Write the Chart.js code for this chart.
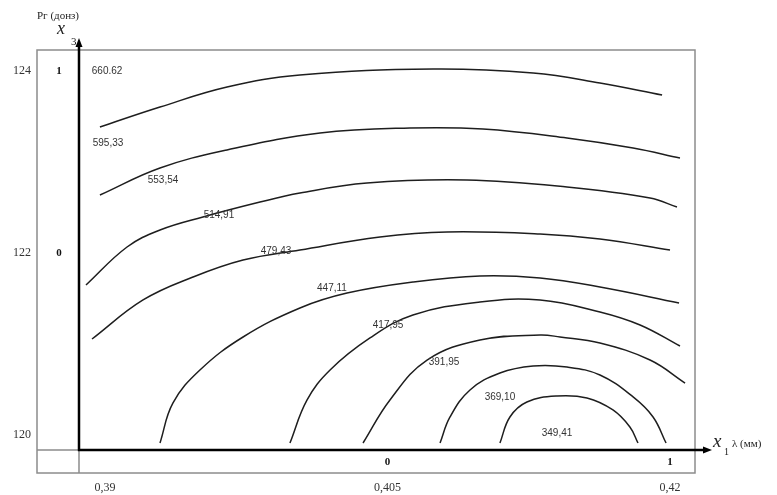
<!DOCTYPE html>
<html>
<head>
<meta charset="utf-8">
<script src="https://cdn.jsdelivr.net/npm/chart.js@4.4.1/dist/chart.umd.min.js"></script>
<style>
  html, body { margin: 0; padding: 0; background: #ffffff; }
  #wrap { width: 777px; height: 495px; }
</style>
</head>
<body>
<div id="wrap"><canvas id="c" width="777" height="495"></canvas></div>
<script>
// ---- data (natural units: x = λ, мм ; y = Pг) ----
const xTicks = [0.39, 0.405, 0.42];
const xTickLabels = ['0,39', '0,405', '0,42'];
const yTicks = [120, 122, 124];
const yTickLabels = ['120', '122', '124'];
const xCoded = ['0', '1'];          // coded labels under x axis at 0.405, 0.42
const xCodedAt = [0.405, 0.42];
const yCoded = ['1', '0'];          // coded labels left of y axis at 124, 122
const yCodedAt = [124, 122];

const c1x = [0.38973, 0.39292, 0.39648, 0.40035, 0.40742, 0.41273, 0.41628, 0.41958];
const c1y = [123.385, 123.604, 123.824, 123.956, 124.022, 123.978, 123.868, 123.736];
const c2x = [0.38973, 0.39292, 0.39648, 0.40142, 0.40619, 0.41007, 0.41453, 0.41804, 0.42053];
const c2y = [122.637, 122.934, 123.132, 123.319, 123.374, 123.363, 123.264, 123.154, 123.044];
const c3x = [0.38899, 0.39117, 0.39292, 0.39520, 0.39823, 0.40035, 0.40391, 0.40922, 0.41453, 0.41894, 0.42037];
const c3y = [121.648, 122.066, 122.253, 122.396, 122.560, 122.659, 122.769, 122.802, 122.725, 122.604, 122.505];
const c4x = [0.38931, 0.39202, 0.39467, 0.39733, 0.40035, 0.40460, 0.40816, 0.41310, 0.41628, 0.42000];
const c4y = [121.055, 121.484, 121.736, 121.923, 122.033, 122.176, 122.231, 122.209, 122.154, 122.033];
const c5x = [0.39292, 0.39361, 0.39504, 0.39733, 0.40035, 0.40285, 0.40635, 0.40991, 0.41310, 0.41628, 0.42048];
const c5y = [119.912, 120.352, 120.714, 121.077, 121.396, 121.560, 121.681, 121.747, 121.725, 121.626, 121.451];
const c6x = [0.39982, 0.40073, 0.40195, 0.40407, 0.40635, 0.40991, 0.41310, 0.41628, 0.41841, 0.42053];
const c6y = [119.912, 120.385, 120.714, 121.066, 121.319, 121.462, 121.484, 121.352, 121.209, 120.978];
const c7x = [0.40370, 0.40513, 0.40710, 0.40991, 0.41310, 0.41416, 0.41628, 0.41894, 0.42080];
const c7y = [119.912, 120.385, 120.824, 121.044, 121.099, 121.077, 121.011, 120.824, 120.571];
const c8x = [0.40779, 0.40832, 0.40938, 0.41097, 0.41273, 0.41453, 0.41628, 0.41804, 0.41910, 0.41979];
const c8y = [119.912, 120.198, 120.495, 120.681, 120.758, 120.747, 120.659, 120.418, 120.198, 119.912];
const c9x = [0.41097, 0.41150, 0.41240, 0.41400, 0.41559, 0.41697, 0.41787, 0.41830];
const c9y = [119.912, 120.198, 120.363, 120.429, 120.407, 120.275, 120.088, 119.912];

const levelText = ['660.62', '595,33', '553,54', '514,91', '479,43', '447,11', '417,95', '391,95', '369,10', '349,41'];
const levelX = [0.39011, 0.39016, 0.39308, 0.39605, 0.39908, 0.40205, 0.40503, 0.40800, 0.41097, 0.41400];
const levelY = [124.0, 123.209, 122.802, 122.418, 122.022, 121.615, 121.209, 120.802, 120.418, 120.022];

// ---- view constants ----
const X_MIN = 0.386389, X_MAX = 0.421327;
const Y_MIN = 119.5824, Y_MAX = 124.2308;
const AXIS_X = 0.388619, AXIS_Y = 119.8352;

const curves = [[c1x, c1y], [c2x, c2y], [c3x, c3y], [c4x, c4y], [c5x, c5y], [c6x, c6y], [c7x, c7y], [c8x, c8y], [c9x, c9y]];
const datasets = curves.map(([xs, ys]) => ({
  data: xs.map((v, i) => ({ x: v, y: ys[i] })),
  showLine: true,
  borderColor: '#1e1e1e',
  borderWidth: 1.5,
  pointRadius: 0,
  tension: 0.4,
  fill: false
}));

const framePlugin = {
  id: 'frame',
  beforeDatasetsDraw(chart) {
    const { ctx, chartArea: a, scales: { x, y } } = chart;
    const ax = x.getPixelForValue(AXIS_X), ay = y.getPixelForValue(AXIS_Y);
    ctx.save();
    ctx.strokeStyle = '#8c8c8c';
    ctx.lineWidth = 1.5;
    ctx.strokeRect(a.left, a.top, a.right - a.left, a.bottom - a.top);
    ctx.beginPath();
    ctx.moveTo(ax, ay); ctx.lineTo(ax, a.bottom);
    ctx.moveTo(a.left, ay); ctx.lineTo(ax, ay);
    ctx.stroke();
    ctx.restore();
  },
  afterDatasetsDraw(chart) {
    const { ctx, chartArea: a, scales: { x, y } } = chart;
    const ax = x.getPixelForValue(AXIS_X), ay = y.getPixelForValue(AXIS_Y);
    ctx.save();
    // thick axes
    ctx.strokeStyle = '#000';
    ctx.lineWidth = 2.5;
    ctx.beginPath();
    ctx.moveTo(ax, ay); ctx.lineTo(ax, a.top - 6);
    ctx.moveTo(ax - 1.2, ay); ctx.lineTo(a.right + 10, ay);
    ctx.stroke();
    ctx.fillStyle = '#000';
    ctx.beginPath();
    ctx.moveTo(ax, a.top - 12); ctx.lineTo(ax - 3.5, a.top - 3); ctx.lineTo(ax + 3.5, a.top - 3); ctx.closePath();
    ctx.fill();
    ctx.beginPath();
    ctx.moveTo(a.right + 17, ay); ctx.lineTo(a.right + 8, ay - 3.5); ctx.lineTo(a.right + 8, ay + 3.5); ctx.closePath();
    ctx.fill();

    // contour level labels
    ctx.fillStyle = '#333';
    ctx.font = '10px "Liberation Sans", Arial, sans-serif';
    ctx.textAlign = 'center';
    ctx.textBaseline = 'middle';
    levelText.forEach((t, i) => {
      ctx.fillText(t, x.getPixelForValue(levelX[i]), y.getPixelForValue(levelY[i]));
    });

    // coded labels
    ctx.fillStyle = '#111';
    ctx.font = 'bold 11px "Liberation Serif", "DejaVu Serif", serif';
    const colX = (a.left + ax) / 2 + 1;
    yCoded.forEach((t, i) => ctx.fillText(t, colX, y.getPixelForValue(yCodedAt[i])));
    const rowY = (ay + a.bottom) / 2 + 1;
    xCoded.forEach((t, i) => ctx.fillText(t, x.getPixelForValue(xCodedAt[i]), rowY));

    // axis titles
    ctx.fillStyle = '#222';
    ctx.textAlign = 'left';
    ctx.textBaseline = 'alphabetic';
    ctx.font = '11px "Liberation Serif", "DejaVu Serif", serif';
    ctx.fillText('Pг (донз)', a.left, 19);
    ctx.font = 'italic 18px "Liberation Serif", "DejaVu Serif", serif';
    ctx.fillText('x', ax - 22, 34);
    ctx.font = '11px "Liberation Serif", "DejaVu Serif", serif';
    ctx.fillText('3', ax - 8, 45);

    ctx.font = 'italic 19px "Liberation Serif", "DejaVu Serif", serif';
    ctx.fillText('x', a.right + 18, ay - 3);
    ctx.font = '10px "Liberation Serif", "DejaVu Serif", serif';
    ctx.fillText('1', a.right + 29, ay + 5);
    ctx.font = '11px "Liberation Serif", "DejaVu Serif", serif';
    ctx.fillText('λ (мм)', a.right + 37, ay - 3);
    ctx.restore();
  }
};

new Chart(document.getElementById('c'), {
  type: 'scatter',
  data: { datasets },
  options: {
    responsive: false,
    animation: false,
    layout: { padding: { left: 0, top: 50, right: 82, bottom: 0 } },
    plugins: { legend: { display: false }, tooltip: { enabled: false } },
    elements: { point: { radius: 0 } },
    scales: {
      x: {
        type: 'linear', min: X_MIN, max: X_MAX,
        afterBuildTicks: s => { s.ticks = xTicks.map(v => ({ value: v })); },
        afterFit: s => { s.height = 22; },
        ticks: {
          callback: (v) => { const i = xTicks.indexOf(v); return i >= 0 ? xTickLabels[i] : ''; },
          font: { family: '"Liberation Serif", "DejaVu Serif", serif', size: 12 },
          color: '#333', padding: 8, maxRotation: 0, autoSkip: false
        },
        grid: { display: false, drawTicks: false },
        border: { display: false }
      },
      y: {
        type: 'linear', min: Y_MIN, max: Y_MAX,
        afterBuildTicks: s => { s.ticks = yTicks.map(v => ({ value: v })); },
        afterFit: s => { s.width = 37; },
        ticks: {
          callback: (v) => { const i = yTicks.indexOf(v); return i >= 0 ? yTickLabels[i] : ''; },
          font: { family: '"Liberation Serif", "DejaVu Serif", serif', size: 12 },
          color: '#333', padding: 6, autoSkip: false
        },
        grid: { display: false, drawTicks: false },
        border: { display: false }
      }
    }
  },
  plugins: [framePlugin]
});
</script>
</body>
</html>
